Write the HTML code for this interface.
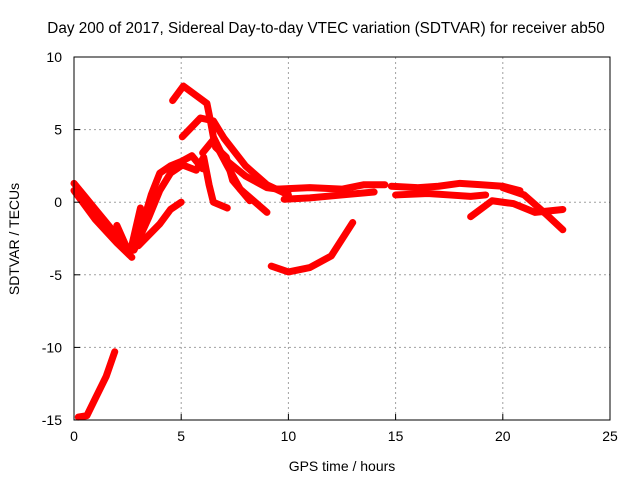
<!DOCTYPE html>
<html><head><meta charset="utf-8"><style>
body{margin:0;background:#fff}
svg{display:block;font-family:"Liberation Sans",sans-serif}
</style></head><body>
<svg id="chart" width="640" height="480">
<rect width="640" height="480" fill="#fff"/>
<text x="326" y="33" text-anchor="middle" font-size="15.3">Day 200 of 2017, Sidereal Day-to-day VTEC variation (SDTVAR) for receiver ab50</text>
<text x="342" y="471" text-anchor="middle" font-size="14">GPS time / hours</text>
<text transform="translate(19,239) rotate(-90)" text-anchor="middle" font-size="14">SDTVAR / TECUs</text>
<g id="grid"></g><g id="marks"></g><g id="axes"></g>
</svg>
<script>
const xTicks=[0,5,10,15,20,25];
const yTicks=[10,5,0,-5,-10,-15];
const track1=[[0,1.3],[0.5,0.4],[1,-0.5],[1.5,-1.4],[2,-2.3],[2.6,-3.6]];
const track2=[[0,0.8],[1,-1.2],[2,-2.8],[2.7,-3.8]];
const track3=[[2.6,-3.5],[3.2,-1.5],[3.6,0.5],[4,2],[4.5,2.5],[5,2.8],[5.5,3.2],[6,2.3]];
const track4=[[2.8,-3.3],[3.5,-1],[4,0.8],[4.5,2.0],[5,2.5]];
const track5=[[3,-3],[4,-1.5],[4.5,-0.5],[5,0]];
const track6=[[2,-1.6],[2.6,-3.6],[3.1,-0.4]];
const track7=[[5,2.6],[5.7,2.2],[6.05,3.1],[6.3,1.2],[6.5,0],[7.15,-0.4]];
const track8=[[4.6,7.0],[5.1,8.0],[6.2,6.8],[6.35,5.7],[6.5,4.5],[7,3],[8,1.8],[9,1.0],[10,0.8]];
const track9=[[5.05,4.5],[5.9,5.8],[6.5,5.6],[7,4.4],[8,2.5],[9,1.2],[10,0.5]];
const track10=[[6.0,3.4],[6.5,4.3],[7.15,2.5],[7.75,0.9],[9.0,-0.7]];
const track11=[[6.6,3.8],[7.1,3.1],[7.4,1.5],[8.2,0.1]];
const track12=[[9.5,0.9],[11,1.0],[12.5,0.9],[13.5,1.2],[14.5,1.2]];
const track13=[[9.8,0.2],[11,0.3],[12.5,0.5],[14,0.7]];
const track14=[[14.8,1.1],[16,1.0],[17,1.1],[18,1.3],[19,1.2],[20,1.1],[20.8,0.8]];
const track15=[[15,0.5],[16.5,0.6],[17.5,0.5],[18.5,0.4],[19.2,0.5]];
const track16=[[20,1.0],[21,0.5],[22,-0.8],[22.8,-1.9]];
const track17=[[18.5,-1],[19.5,0.1],[20.5,-0.1],[21.5,-0.7],[22.8,-0.5]];
const track18=[[9.2,-4.4],[10,-4.8],[11,-4.5],[12,-3.7],[13,-1.4]];
const track19=[[0.2,-14.8],[0.6,-14.7],[1,-13.5],[1.5,-12],[1.9,-10.3]];
const series=[track1,track2,track3,track4,track5,track6,track7,track8,track9,track10,track11,track12,track13,track14,track15,track16,track17,track18,track19];
const X0=74,X1=610,Y0=420,Y1=57;
const sx=v=>X0+(v-0)/25*(X1-X0);
const sy=v=>Y0-(v+15)/25*(Y0-Y1);
const NS="http://www.w3.org/2000/svg";
const grid=document.getElementById('grid'),axes=document.getElementById('axes'),marks=document.getElementById('marks');
function mk(tag,attrs,parent){const e=document.createElementNS(NS,tag);for(const k in attrs)e.setAttribute(k,attrs[k]);parent.appendChild(e);return e;}
xTicks.forEach(t=>{
 if(t>0&&t<25){const g=mk('line',{x1:sx(t),x2:sx(t),y1:Y1,y2:Y0,stroke:'#a0a0a0','stroke-dasharray':'2,3'},grid);
 
 }
 const tk=mk('line',{x1:sx(t),x2:sx(t),y1:Y0,y2:Y0-6,stroke:'#000'},axes);
 
 
 const tx=mk('text',{x:sx(t),y:Y0+21,'text-anchor':'middle','font-size':14},axes);tx.textContent=t;
 
 
});
yTicks.forEach(t=>{
 if(t>-15&&t<10){const g=mk('line',{x1:X0,x2:X1,y1:sy(t),y2:sy(t),stroke:'#a0a0a0','stroke-dasharray':'2,3'},grid);
 
 }
 const tk=mk('line',{x1:X0,x2:X0+6,y1:sy(t),y2:sy(t),stroke:'#000'},axes);
 
 
 const tx=mk('text',{x:X0-12,y:sy(t)+5,'text-anchor':'end','font-size':14},axes);tx.textContent=t;
 
 
});
const fr=mk('rect',{x:X0,y:Y1,width:X1-X0,height:Y0-Y1,fill:'none',stroke:'#000'},axes);


series.forEach((s,i)=>{
 const p=mk('polyline',{points:s.map(d=>sx(d[0])+','+sy(d[1])).join(' '),fill:'none',stroke:'#f00','stroke-width':7,'stroke-linejoin':'round','stroke-linecap':'round'},marks);
 
 
});
</script>
</body></html>
